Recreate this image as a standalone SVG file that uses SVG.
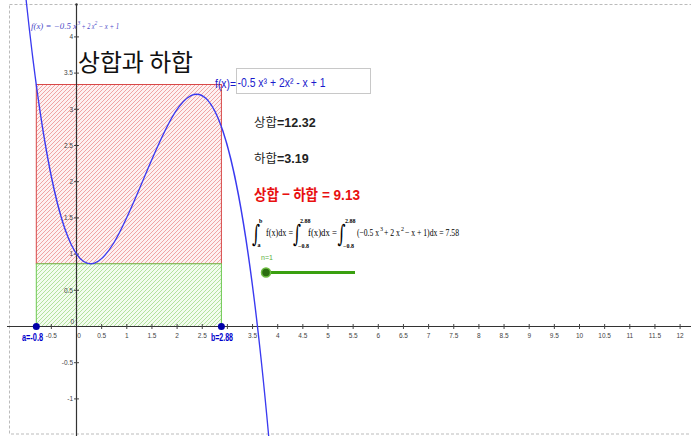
<svg xmlns="http://www.w3.org/2000/svg" width="691" height="436" viewBox="0 0 691 436">
<style>
.tick{font-family:"Liberation Sans",Arial,sans-serif;font-size:6.5px;fill:#444}
.tk{stroke:#444;stroke-width:1}
.ax{stroke:#333;stroke-width:1.2}
.lbl{font-family:"Liberation Sans",Arial,sans-serif;font-weight:bold;font-size:10px;fill:#0000cc}
.ko{font-family:"Noto Sans CJK KR","Noto Sans",sans-serif}
.num{font-family:"Liberation Sans",Arial,sans-serif;font-weight:bold}
.ser{font-family:"Liberation Serif","Times New Roman",serif;font-size:10px;fill:#000}
.sup{font-family:"Liberation Serif","Times New Roman",serif;font-size:6px;fill:#000}
.lim{font-family:"Liberation Serif","Times New Roman",serif;font-size:6px;font-weight:bold;fill:#000}
.int{font-family:"DejaVu Serif",serif;font-size:24px;fill:#000}
.fl{font-family:"Liberation Serif","Times New Roman",serif;font-style:italic;font-size:8.5px;fill:#4a4ac8}
.fls{font-family:"Liberation Serif","Times New Roman",serif;font-style:italic;font-size:5.5px;fill:#4a4ac8}
</style>
<defs>
<pattern id="hatchR" patternUnits="userSpaceOnUse" width="4" height="4">
<rect width="4" height="4" fill="#fdf1f1"/>
<path d="M-1,1 L1,-1 M0,4 L4,0 M3,5 L5,3" stroke="#ec9090" stroke-width="0.8"/>
</pattern>
<pattern id="hatchG" patternUnits="userSpaceOnUse" width="4" height="4">
<rect width="4" height="4" fill="#f3fcef"/>
<path d="M-1,1 L1,-1 M0,4 L4,0 M3,5 L5,3" stroke="#a2dc88" stroke-width="0.8"/>
</pattern>
</defs>
<rect width="691" height="436" fill="#fff"/>
<rect id="frame" x="9.5" y="4.5" width="700" height="429.5" fill="none" stroke="#bbb" stroke-width="1" stroke-dasharray="3,2"/>

<g id="upper-sum"><rect x="36.3" y="84.5" width="185.1" height="179.3" fill="url(#hatchR)" stroke="#d84848" stroke-width="1"/></g>
<g id="lower-sum"><rect x="36.3" y="263.8" width="185.1" height="62.7" fill="url(#hatchG)" stroke="#6cc850" stroke-width="1"/></g>

<g id="axes">
<line class="ax" x1="7" y1="326.5" x2="691" y2="326.5"/>
<line class="ax" x1="76.5" y1="4" x2="76.5" y2="436"/>
<circle cx="76.5" cy="4.5" r="1.2" fill="#333"/>
<g class="tk">
<line x1="51.35" y1="324" x2="51.35" y2="329"/><line x1="101.65" y1="324" x2="101.65" y2="329"/><line x1="126.8" y1="324" x2="126.8" y2="329"/><line x1="151.95" y1="324" x2="151.95" y2="329"/><line x1="177.1" y1="324" x2="177.1" y2="329"/><line x1="202.25" y1="324" x2="202.25" y2="329"/><line x1="227.4" y1="324" x2="227.4" y2="329"/><line x1="252.55" y1="324" x2="252.55" y2="329"/><line x1="277.7" y1="324" x2="277.7" y2="329"/><line x1="302.85" y1="324" x2="302.85" y2="329"/><line x1="328" y1="324" x2="328" y2="329"/><line x1="353.15" y1="324" x2="353.15" y2="329"/><line x1="378.3" y1="324" x2="378.3" y2="329"/><line x1="403.45" y1="324" x2="403.45" y2="329"/><line x1="428.6" y1="324" x2="428.6" y2="329"/><line x1="453.75" y1="324" x2="453.75" y2="329"/><line x1="478.9" y1="324" x2="478.9" y2="329"/><line x1="504.05" y1="324" x2="504.05" y2="329"/><line x1="529.2" y1="324" x2="529.2" y2="329"/><line x1="554.35" y1="324" x2="554.35" y2="329"/><line x1="579.5" y1="324" x2="579.5" y2="329"/><line x1="604.65" y1="324" x2="604.65" y2="329"/><line x1="629.8" y1="324" x2="629.8" y2="329"/><line x1="654.95" y1="324" x2="654.95" y2="329"/><line x1="680.1" y1="324" x2="680.1" y2="329"/>
<line x1="74" y1="36.9" x2="79" y2="36.9"/><line x1="74" y1="73.1" x2="79" y2="73.1"/><line x1="74" y1="109.3" x2="79" y2="109.3"/><line x1="74" y1="145.5" x2="79" y2="145.5"/><line x1="74" y1="181.7" x2="79" y2="181.7"/><line x1="74" y1="217.9" x2="79" y2="217.9"/><line x1="74" y1="254.1" x2="79" y2="254.1"/><line x1="74" y1="290.3" x2="79" y2="290.3"/><line x1="74" y1="362.7" x2="79" y2="362.7"/><line x1="74" y1="398.9" x2="79" y2="398.9"/>
</g>
<g class="tick" text-anchor="middle">
<text x="51.35" y="338">-0.5</text><text x="79" y="338">0</text><text x="101.65" y="338">0.5</text><text x="126.8" y="338">1</text><text x="151.95" y="338">1.5</text><text x="177.1" y="338">2</text><text x="202.25" y="338">2.5</text><text x="252.55" y="338">3.5</text><text x="277.7" y="338">4</text><text x="302.85" y="338">4.5</text><text x="328" y="338">5</text><text x="353.15" y="338">5.5</text><text x="378.3" y="338">6</text><text x="403.45" y="338">6.5</text><text x="428.6" y="338">7</text><text x="453.75" y="338">7.5</text><text x="478.9" y="338">8</text><text x="504.05" y="338">8.5</text><text x="529.2" y="338">9</text><text x="554.35" y="338">9.5</text><text x="579.5" y="338">10</text><text x="604.65" y="338">10.5</text><text x="629.8" y="338">11</text><text x="654.95" y="338">11.5</text><text x="680.1" y="338">12</text>
</g>
<g class="tick" text-anchor="end">
<text x="73" y="39.2">4</text><text x="73" y="75.4">3.5</text><text x="73" y="111.6">3</text><text x="73" y="147.8">2.5</text><text x="73" y="184">2</text><text x="73" y="220.2">1.5</text><text x="73" y="256.4">1</text><text x="73" y="292.6">0.5</text><text x="74" y="324">0</text><text x="73" y="365">-0.5</text><text x="73" y="401.2">-1</text>
</g>
</g>

<g id="curve"><path d="M23.685,-23.47 C105.84,787.0 187.998,-474.0 270.155,452.35" fill="none" stroke="#3a3af0" stroke-width="1.3"/></g>

<g id="point-a"><circle cx="36.3" cy="326.5" r="3.5" fill="#0000a8"/><text class="lbl" x="22" y="341" textLength="21" lengthAdjust="spacingAndGlyphs">a=-0.8</text></g>
<g id="point-b"><circle cx="221.4" cy="326.5" r="3.5" fill="#0000a8"/><text class="lbl" x="211" y="341" textLength="22" lengthAdjust="spacingAndGlyphs">b=2.88</text></g>

<g id="fn-label">
<text class="fl" x="31" y="29" textLength="46" lengthAdjust="spacingAndGlyphs">f(x) = −0.5 x</text>
<text class="fls" x="77.5" y="25">3</text>
<text class="fl" x="81.5" y="29" textLength="13" lengthAdjust="spacingAndGlyphs">+ 2 x</text>
<text class="fls" x="94.5" y="25">2</text>
<text class="fl" x="98.5" y="29" textLength="20.5" lengthAdjust="spacingAndGlyphs">− x + 1</text>
</g>

<g id="title"><text class="ko" x="78" y="71" font-size="24" fill="#111" textLength="115" lengthAdjust="spacingAndGlyphs">상합과 하합</text></g>

<g id="input-box">
<text x="215" y="88" font-family="Liberation Sans,Arial,sans-serif" font-size="13" fill="#1a1acc" textLength="21" lengthAdjust="spacingAndGlyphs">f(x)=</text>
<rect x="236.5" y="68.5" width="134" height="25" fill="#fff" stroke="#c8c8c8" stroke-width="1"/>
<text x="237.5" y="87" font-family="Liberation Sans,Arial,sans-serif" font-size="13" fill="#1a1acc" textLength="88" lengthAdjust="spacingAndGlyphs">-0.5 x³ + 2x² - x + 1</text>
</g>

<g id="upper-text"><text x="254" y="127" font-size="12.5" fill="#222"><tspan class="ko">상합</tspan><tspan class="num">=12.32</tspan></text></g>
<g id="lower-text"><text x="254" y="163" font-size="12.5" fill="#222"><tspan class="ko">하합</tspan><tspan class="num">=3.19</tspan></text></g>
<g id="diff-text"><text x="254" y="200" font-size="15" fill="#e81010" font-weight="bold" textLength="106" lengthAdjust="spacingAndGlyphs"><tspan class="ko">상합 − 하합</tspan><tspan class="num"> = 9.13</tspan></text></g>

<g id="integral">
<text class="int" x="252" y="242" textLength="8" lengthAdjust="spacingAndGlyphs">∫</text>
<text class="lim" x="259" y="223">b</text>
<text class="lim" x="257.5" y="247">a</text>
<text class="ser" x="266" y="236" textLength="27" lengthAdjust="spacingAndGlyphs">f(x)dx =</text>
<text class="int" x="293" y="242" textLength="8" lengthAdjust="spacingAndGlyphs">∫</text>
<text class="lim" x="300" y="223">2.88</text>
<text class="lim" x="298" y="247.5">−0.8</text>
<text class="ser" x="308" y="236" textLength="29" lengthAdjust="spacingAndGlyphs">f(x)dx =</text>
<text class="int" x="337.5" y="242" textLength="8" lengthAdjust="spacingAndGlyphs">∫</text>
<text class="lim" x="345" y="223">2.88</text>
<text class="lim" x="343" y="247.5">−0.8</text>
<text class="ser" x="357" y="236" textLength="22" lengthAdjust="spacingAndGlyphs">(−0.5 x</text>
<text class="sup" x="380" y="231">3</text>
<text class="ser" x="384" y="236" textLength="16" lengthAdjust="spacingAndGlyphs">+ 2 x</text>
<text class="sup" x="401" y="231">2</text>
<text class="ser" x="405" y="236" textLength="54" lengthAdjust="spacingAndGlyphs">− x + 1)dx = 7.58</text>
</g>

<g id="slider">
<text x="261" y="260" font-family="Liberation Sans,Arial,sans-serif" font-size="7" fill="#5cb040">n=1</text>
<line x1="266" y1="272.5" x2="355" y2="272.5" stroke="#3aa010" stroke-width="3"/>
<circle cx="266" cy="272.5" r="4.5" fill="#2b6e10" stroke="#6cbc40" stroke-width="1.5"/>
</g>
</svg>
